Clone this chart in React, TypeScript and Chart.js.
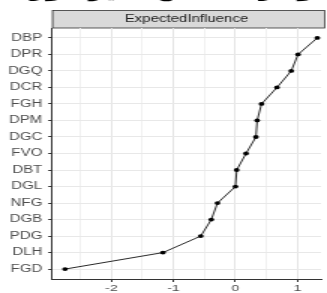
import React, { useEffect, useRef } from "react";
import { Chart, registerables } from "chart.js";

Chart.register(...registerables);

const CATEGORIES = ["DBP", "DPR", "DGQ", "DCR", "FGH", "DPM", "DGC", "FVO", "DBT", "DGL", "NFG", "DGB", "PDG", "DLH", "FGD"];
const VALUES = [1.32, 1.01, 0.9, 0.67, 0.42, 0.35, 0.33, 0.17, 0.02, 0.0, -0.29, -0.39, -0.56, -1.17, -2.75];
const X_TICKS = [-2, -1, 0, 1];
const STRIP_TITLE = "ExpectedInfluence";
const CAPTION = "شکل ۲: نمودار شاخص تأثیر مورد انتظار";

const S = 1.5; // horizontal stretch
const W = 327;
const H = 293;
const WI = Math.round(W / S);
const FONT = "Liberation Sans, Arial, sans-serif";

export default function App() {
  const ref = useRef<HTMLCanvasElement>(null);
  useEffect(() => {
    const canvas = ref.current!;
    const stripPlugin = {
      id: "strip",
      beforeDraw(chart: any) {
        const { ctx, chartArea } = chart;
        ctx.save();
        // caption (cut off at top)
        ctx.fillStyle = "#000";
        ctx.font = "bold 18px 'DejaVu Sans'";
        ctx.textAlign = "center";
        ctx.textBaseline = "alphabetic";
        ctx.direction = "rtl";
        ctx.fillText(CAPTION, 190 / S, -3);
        ctx.direction = "ltr";
        // strip
        const x0 = chartArea.left;
        const x1 = chartArea.right + 2;
        ctx.fillStyle = "#d9d9d9";
        ctx.fillRect(x0, 10, x1 - x0, 18);
        ctx.strokeStyle = "#333";
        ctx.lineWidth = 0.8;
        ctx.strokeRect(x0 + 0.4, 10.5, x1 - x0, 17.5);
        ctx.fillStyle = "#1a1a1a";
        ctx.font = `10px ${FONT}`;
        ctx.textBaseline = "middle";
        ctx.fillText(STRIP_TITLE, (chartArea.left + chartArea.right) / 2, 19.5);
        ctx.restore();
      },
    };
    const chart = new Chart(canvas, {
      type: "line",
      data: {
        datasets: [
          {
            data: VALUES.map((v, i) => ({ x: v, y: i + 1 })),
            borderColor: "#111",
            borderWidth: 0.9,
            pointRadius: 1.9,
            pointBackgroundColor: "#000",
            pointBorderColor: "#000",
            pointBorderWidth: 0,
            tension: 0,
            clip: false as any,
          },
        ],
      },
      options: {
        animation: false,
        responsive: false,
        devicePixelRatio: 1,
        layout: { padding: { top: 28, left: 0, right: 0, bottom: 0 } },
        plugins: { legend: { display: false }, tooltip: { enabled: false } },
        scales: {
          x: {
            type: "linear",
            min: -2.96,
            max: 1.38,
            afterFit: (s: any) => {
              s.height = 14;
            },
            border: { display: true, color: "#333", width: 1 },
            grid: {
              color: (c: any) => (X_TICKS.includes(c.tick?.value) ? "#e4e4e4" : "#f1f1f1"),
              tickColor: (c: any) => (X_TICKS.includes(c.tick?.value) ? "#333" : "rgba(0,0,0,0)"),
              tickLength: 3,
              lineWidth: 1,
            },
            ticks: {
              stepSize: 0.5,
              includeBounds: false,
              autoSkip: false,
              maxRotation: 0,
              padding: 1,
              color: "#4d4d4d",
              font: { family: FONT, size: 9.5 },
              callback: (v: any) => (X_TICKS.includes(Number(v)) ? String(v) : ""),
            },
          },
          y: {
            type: "linear",
            reverse: true,
            min: 0.4,
            max: 15.6,
            afterFit: (s: any) => {
              s.width = 52 / S;
            },
            border: { display: true, color: "#333", width: 1 },
            grid: {
              color: "#e8e8e8",
              tickColor: "#333",
              tickLength: 2.5,
              lineWidth: 1,
            },
            ticks: {
              stepSize: 1,
              includeBounds: false,
              autoSkip: false,
              padding: 4,
              color: "#4d4d4d",
              font: { family: FONT, size: 10 },
              callback: (v: any) => CATEGORIES[Number(v) - 1] ?? "",
            },
          },
        },
      },
      plugins: [stripPlugin],
    });
    return () => chart.destroy();
  }, []);
  return (
    <div style={{ position: "fixed", left: 0, top: 0, width: W, height: H, background: "#fff" }}>
      <canvas ref={ref} width={WI} height={H} style={{ width: `${W}px`, height: `${H}px`, display: "block" }} />
    </div>
  );
}
